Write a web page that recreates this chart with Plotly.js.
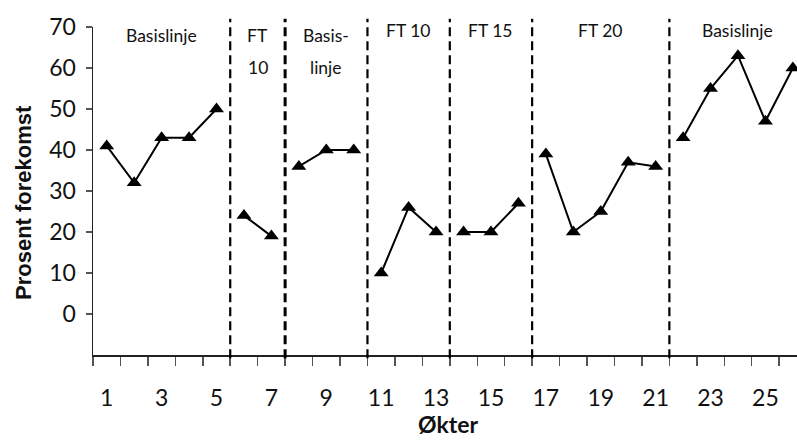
<!DOCTYPE html>
<html>
<head>
<meta charset="utf-8">
<script src="https://cdn.plot.ly/plotly-3.0.1.min.js"></script>
<style>html,body{margin:0;padding:0;background:#fff;}#chart{width:797px;height:441px;}</style>
</head>
<body>
<div id="chart"></div>
<script>
// Sessions (Økter) and percentage of occurrence
const sessions = [1,2,3,4,5,6,7,8,9,10,11,12,13,14,15,16,17,18,19,20,21,22,23,24,25,26];
const percent  = [41,32,43,43,50,24,19,36,40,40,10,26,20,20,20,27,39,20,25,37,36,43,55,63,47,60];
// Phases: first session of each phase and its label lines
const phaseStarts = [1,6,8,11,14,17,22];
const phaseLabels = [['Basislinje'],['FT','10'],['Basis-','linje'],['FT 10'],['FT 15'],['FT 20'],['Basislinje']];
const yTicks = [0,10,20,30,40,50,60,70];
const xTickLabels = [1,3,5,7,9,11,13,15,17,19,21,23,25];

// label placement (layout only)
const labelCenters = [3,6.5,9,12,15,19,24];
const labelTopPx = [35,35,35,30,30,30,30];

const lastSession = sessions[sessions.length-1];
const traces = [];
for (let p = 0; p < phaseStarts.length; p++) {
  const s0 = phaseStarts[p];
  const s1 = p+1 < phaseStarts.length ? phaseStarts[p+1] : lastSession+1;
  const xs = [], ys = [];
  sessions.forEach((s,i) => { if (s >= s0 && s < s1) { xs.push(s); ys.push(percent[i]); } });
  traces.push({
    x: xs, y: ys, type: 'scatter', mode: 'lines+markers',
    line: {color: '#000', width: 2},
    marker: {symbol: 'triangle-up', size: 13, color: '#000'},
    showlegend: false, hoverinfo: 'skip', xaxis: 'x', yaxis: 'y'
  });
}
traces.push({x: [1], y: [null], xaxis: 'x2', yaxis: 'y', showlegend: false, hoverinfo: 'skip', type: 'scatter', mode: 'markers'});

const boundaries = phaseStarts.slice(1).map(s => s - 0.5);
const shapes = boundaries.map((b, i) => ({
  type: 'line', xref: 'x', yref: 'paper', x0: b, x1: b, y0: -0.01, y1: 1.025,
  line: {color: '#000', width: i === 1 ? 3 : 2.2, dash: '9px,5px'}
}));

const sans = 'Lato, "DejaVu Sans Condensed", sans-serif';
const plotTop = 27, plotH = 328;
const pxToPaper = py => 1 - (py - plotTop) / plotH;
const annotations = [];
phaseLabels.forEach((lines, i) => {
  lines.forEach((t, j) => {
    annotations.push({
      x: labelCenters[i], xref: 'x', y: pxToPaper(labelTopPx[i] + j * 32), yref: 'paper',
      xanchor: 'center', yanchor: 'middle',
      text: t, showarrow: false,
      font: {family: sans, size: 17.5, color: '#111'}
    });
  });
});
annotations.push({
  x: (23 - 93) / 704, xref: 'paper', xanchor: 'center', y: pxToPaper(203), yref: 'paper', yanchor: 'middle',
  textangle: -90, text: '<b>Prosent forekomst</b>', showarrow: false,
  font: {family: '"Liberation Sans", Arial, sans-serif', size: 22, color: '#111'}
});
annotations.push({
  x: (448 - 93) / 704, xref: 'paper', xanchor: 'center', y: pxToPaper(424), yref: 'paper', yanchor: 'middle',
  text: '<b>Økter</b>', showarrow: false,
  font: {family: sans, size: 23, color: '#111'}
});

const xRange = [0.5, 26.15];
const layout = {
  width: 797, height: 441,
  margin: {l: 93, r: 0, t: 27, b: 86},
  paper_bgcolor: '#fff', plot_bgcolor: '#fff',
  xaxis: {
    range: xRange, tickmode: 'array',
    tickvals: sessions.map(s => s - 0.5).concat([lastSession + 0.5]),
    showticklabels: false, ticks: 'outside', ticklen: 9, tickcolor: '#555', tickwidth: 1.5,
    showline: true, linecolor: '#222', linewidth: 1.5, showgrid: false, zeroline: false
  },
  xaxis2: {
    overlaying: 'x', side: 'bottom', range: xRange, tickmode: 'array',
    tickvals: xTickLabels, ticktext: xTickLabels.map(String),
    ticks: '', ticklabelstandoff: 27, showline: false, showgrid: false, zeroline: false,
    tickfont: {family: sans, size: 23, color: '#111'}
  },
  yaxis: {
    range: [-10, 70], tickmode: 'array', tickvals: yTicks, ticktext: yTicks.map(String),
    ticks: 'outside', ticklen: 6, tickcolor: '#555', tickwidth: 1.5,
    showline: true, linecolor: '#222', linewidth: 1.5, showgrid: false, zeroline: false,
    ticklabelstandoff: 5,
    tickfont: {family: sans, size: 23, color: '#111'}
  },
  shapes: shapes,
  annotations: annotations
};
Plotly.newPlot('chart', traces, layout, {staticPlot: true, displayModeBar: false});
</script>
</body>
</html>
